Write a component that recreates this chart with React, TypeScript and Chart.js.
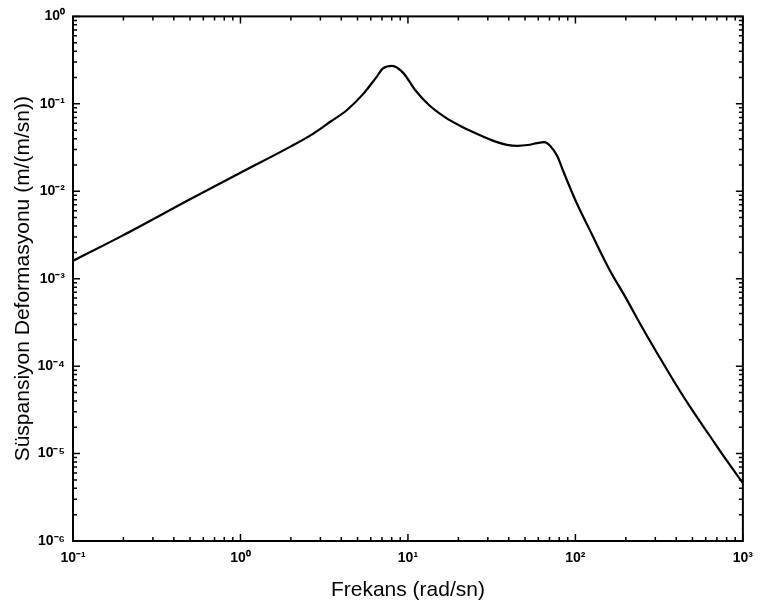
import React, { useEffect, useRef } from "react";
import { Chart, registerables } from "chart.js";

Chart.register(...registerables);

// Frequency (rad/sn)
const frequencies = [
  0.1, 0.2, 0.5, 1.0, 2.0, 2.74, 3.44, 4.31, 5.41, 6.47, 7.1, 8.05, 9.31, 11.1, 13.4, 16.7, 21.0,
  26.4, 33.0, 39, 45, 52, 59, 65, 71, 78, 85, 100, 126, 158, 200, 251, 316, 398, 501, 631, 794,
  1000,
];
// Suspension deformation (m/(m/sn))
const deformation = [
  1.6e-3, 3.15e-3, 8.1e-3, 0.0163, 0.0326, 0.046, 0.0624, 0.0845, 0.13, 0.201, 0.254, 0.272,
  0.229, 0.142, 0.0962, 0.07, 0.0547, 0.0445, 0.0372, 0.034, 0.0331, 0.0338, 0.0355, 0.0364,
  0.0327, 0.0251, 0.0166, 7.9e-3, 3.16e-3, 1.32e-3, 6.03e-4, 2.75e-4, 1.29e-4, 6.17e-5, 3.09e-5,
  1.62e-5, 8.51e-6, 4.6e-6,
];

const xDecades = [-1, 0, 1, 2, 3];
const yDecades = [-6, -5, -4, -3, -2, -1, 0];

const xTitle = "Frekans (rad/sn)";
const yTitle = "Süspansiyon Deformasyonu (m/(m/sn))";

const SUP: Record<string, string> = {
  "-": "\u207B", "0": "\u2070", "1": "\u00B9", "2": "\u00B2", "3": "\u00B3",
  "4": "\u2074", "5": "\u2075", "6": "\u2076", "7": "\u2077", "8": "\u2078", "9": "\u2079",
};
const powLabel = (e: number) => "10" + String(e).split("").map((c) => SUP[c] || c).join("");

const FONT = "'Liberation Sans', Arial, Helvetica, sans-serif";

const decadeLabel = (value: number, decades: number[]) => {
  const e = Math.round(Math.log10(value));
  if (Math.abs(Math.log10(value) - e) < 1e-6 && decades.includes(e)) return powLabel(e);
  return "";
};

const boxTicksPlugin = {
  id: "boxTicks",
  afterDatasetsDraw(chart: any) {
    const { ctx, chartArea: a, scales } = chart;
    const xs = scales.x;
    const ys = scales.y;
    ctx.save();
    ctx.strokeStyle = "#000";
    ctx.lineWidth = 1.5;
    const major = 7;
    const minor = 4;
    const xMax = Math.pow(10, xDecades[xDecades.length - 1]);
    const yMax = Math.pow(10, yDecades[yDecades.length - 1]);
    for (let d = xDecades[0]; d <= xDecades[xDecades.length - 1]; d++) {
      for (let m = 1; m <= 9; m++) {
        const v = m * Math.pow(10, d);
        if (v > xMax * 1.0001) continue;
        const px = xs.getPixelForValue(v);
        const len = m === 1 ? major : minor;
        ctx.beginPath();
        ctx.moveTo(px, a.bottom);
        ctx.lineTo(px, a.bottom - len);
        ctx.moveTo(px, a.top);
        ctx.lineTo(px, a.top + len);
        ctx.stroke();
      }
    }
    for (let d = yDecades[0]; d <= yDecades[yDecades.length - 1]; d++) {
      for (let m = 1; m <= 9; m++) {
        const v = m * Math.pow(10, d);
        if (v > yMax * 1.0001) continue;
        const py = ys.getPixelForValue(v);
        const len = m === 1 ? major : minor;
        ctx.beginPath();
        ctx.moveTo(a.left, py);
        ctx.lineTo(a.left + len, py);
        ctx.moveTo(a.right, py);
        ctx.lineTo(a.right - len, py);
        ctx.stroke();
      }
    }
    ctx.lineWidth = 2;
    ctx.strokeRect(a.left, a.top, a.right - a.left, a.bottom - a.top);
    ctx.restore();
  },
};

export default function App() {
  const ref = useRef<HTMLCanvasElement | null>(null);

  useEffect(() => {
    document.body.style.margin = "0";
    const canvas = ref.current;
    if (!canvas) return;
    const chart = new Chart(canvas, {
      type: "line",
      data: {
        datasets: [
          {
            data: frequencies.map((f, i) => ({ x: f, y: deformation[i] })),
            borderColor: "#000",
            borderWidth: 2.2,
            pointRadius: 0,
            fill: false,
            cubicInterpolationMode: "monotone",
          },
        ],
      },
      options: {
        animation: false,
        responsive: false,
        devicePixelRatio: 1,
        layout: { padding: { top: 10, right: 11, left: 0, bottom: 0 } },
        plugins: { legend: { display: false }, tooltip: { enabled: false } },
        scales: {
          x: {
            type: "logarithmic",
            position: "bottom",
            min: 0.1,
            max: 1000,
            grid: { display: false, drawTicks: false },
            border: { display: false },
            ticks: {
              autoSkip: false,
              maxRotation: 0,
              padding: 9,
              color: "#000",
              font: { family: FONT, size: 14, weight: "bold" },
              callback: (v: any) => decadeLabel(Number(v), xDecades),
            },
            title: {
              display: true,
              text: xTitle,
              color: "#000",
              font: { family: FONT, size: 21 },
              padding: { top: 0, bottom: 3 },
            },
            afterFit: (s: any) => {
              s.height = 65;
            },
          },
          y: {
            type: "logarithmic",
            min: 1e-6,
            max: 1,
            grid: { display: false, drawTicks: false },
            border: { display: false },
            ticks: {
              autoSkip: false,
              padding: 8,
              color: "#000",
              font: { family: FONT, size: 14, weight: "bold" },
              callback: (v: any) => decadeLabel(Number(v), yDecades),
            },
            title: {
              display: true,
              text: yTitle,
              color: "#000",
              font: { family: FONT, size: 21 },
              padding: { top: 11, bottom: 0 },
            },
            afterFit: (s: any) => {
              s.width = 73;
            },
          },
        },
      },
      plugins: [boxTicksPlugin],
    } as any);
    return () => chart.destroy();
  }, []);

  return (
    <div style={{ position: "absolute", left: 0, top: 0, width: 762, height: 606, background: "#fff" }}>
      <canvas ref={ref} width={762} height={606} style={{ width: 762, height: 606 }} />
    </div>
  );
}
